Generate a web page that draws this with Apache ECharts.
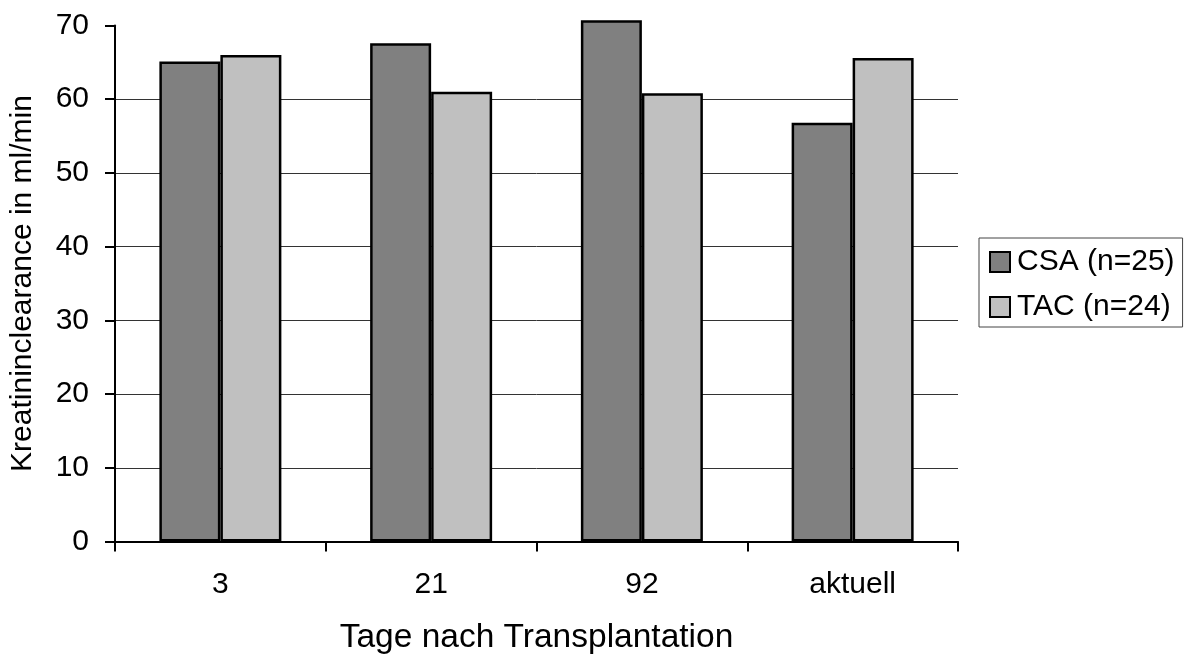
<!DOCTYPE html>
<html>
<head>
<meta charset="utf-8">
<script src="https://cdn.jsdelivr.net/npm/echarts@6/dist/echarts.min.js"></script>
<style>html,body{margin:0;padding:0;background:#fff}#c{width:1188px;height:657px}</style>
</head>
<body>
<div id="c"></div>
<script>
const categories = ['3', '21', '92', 'aktuell'];
const csaValues = [65.1, 67.6, 70.7, 56.8];
const tacValues = [66.0, 61.0, 60.8, 65.6];
const seriesNames = ['CSA (n=25)', 'TAC (n=24)'];

const chart = echarts.init(document.getElementById('c'), null, {renderer: 'canvas'});
const font = 'Liberation Sans, Arial, sans-serif';
chart.setOption({
  animation: false,
  backgroundColor: '#fff',
  grid: {left: 115, right: 230, top: 25.5, bottom: 115.5, containLabel: false, outerBoundsMode: 'none'},
  legend: {
    orient: 'vertical',
    left: 979, top: 238,
    width: 190,
    padding: [9, 8, 5, 10],
    itemGap: 15,
    itemWidth: 20, itemHeight: 20,
    icon: 'rect',
    borderColor: '#444', borderWidth: 1,
    itemStyle: {borderColor: '#000', borderWidth: 2},
    textStyle: {fontFamily: font, fontSize: 30, color: '#000', padding: [0, 0, 0, 2]},
    data: seriesNames
  },
  xAxis: {
    type: 'category',
    data: categories,
    name: 'Tage nach Transplantation',
    nameLocation: 'middle',
    nameGap: 79,
    nameTextStyle: {fontFamily: font, fontSize: 33.5, color: '#000'},
    axisLine: {lineStyle: {color: '#000', width: 2}},
    axisTick: {show: true, length: 10, lineStyle: {color: '#000', width: 2}},
    axisLabel: {fontFamily: font, fontSize: 30, color: '#000', margin: 28}
  },
  yAxis: {
    type: 'value',
    min: 0, max: 70, interval: 10,
    name: 'Kreatininclearance in ml/min',
    nameLocation: 'middle',
    nameGap: 77,
    nameTextStyle: {fontFamily: font, fontSize: 30, color: '#000'},
    axisLine: {show: true, lineStyle: {color: '#000', width: 2}},
    axisTick: {show: true, length: 10, lineStyle: {color: '#000', width: 2}},
    axisLabel: {fontFamily: font, fontSize: 30, color: '#000', margin: 26},
    splitLine: {show: true, showMaxLine: false, lineStyle: {color: '#333', width: 1}}
  },
  series: [
    {name: seriesNames[0], type: 'bar', data: csaValues, barGap: '0%', barWidth: 61, clip: false,
     itemStyle: {color: '#808080', borderColor: '#000', borderWidth: 2.5}},
    {name: seriesNames[1], type: 'bar', data: tacValues, barGap: '0%', barWidth: 61, clip: false,
     itemStyle: {color: '#c0c0c0', borderColor: '#000', borderWidth: 2.5}}
  ]
});
</script>
</body>
</html>
